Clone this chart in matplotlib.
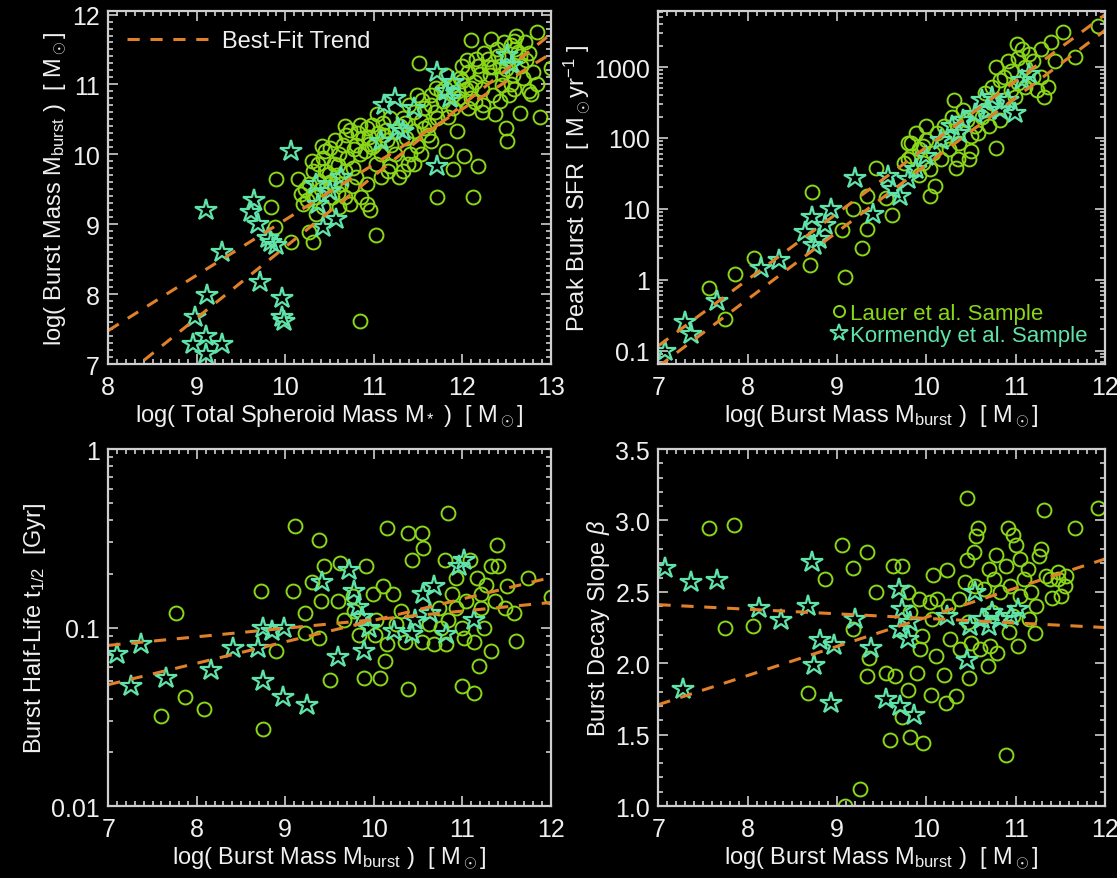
import numpy as np
import matplotlib.pyplot as plt
from matplotlib.lines import Line2D
from matplotlib.ticker import MultipleLocator, LogLocator, FixedLocator, FixedFormatter

plt.rcParams['font.family'] = ['Liberation Sans', 'DejaVu Sans']
plt.rcParams['mathtext.fontset'] = 'custom'
plt.rcParams['mathtext.rm'] = 'Liberation Sans'
plt.rcParams['mathtext.it'] = 'Liberation Sans:italic'

# --- panel 1: burst mass vs total spheroid mass ---
p1_lauer_x = [12.84, 13.0, 12.88, 12.10, 11.51, 11.71, 12.12, 11.02, 10.84, 9.90, 9.84, 9.88, 10.06, 10.31,
              10.27, 12.51, 12.18, 12.02, 11.94, 11.90, 12.65, 12.78, 12.49, 11.82, 11.65, 11.49, 11.65, 11.39,
              11.18, 10.14, 10.18, 10.20, 10.27, 10.31, 10.37, 10.43, 10.45, 10.49, 10.55, 10.61, 10.65, 10.69,
              10.73, 10.80, 10.84, 10.88, 10.92, 10.98, 11.00, 11.02, 10.92, 10.86, 10.92, 10.96, 10.67, 10.73,
              10.61, 10.53, 10.43, 10.35, 10.45, 10.63, 10.80, 11.08, 11.14, 11.18, 11.20, 11.24, 11.33, 11.29,
              11.41, 11.49, 11.37, 11.45, 11.53, 11.57, 11.63, 11.69, 11.78, 11.84, 11.90, 11.96, 11.98, 12.04,
              12.06, 12.10, 12.14, 12.18, 12.22, 12.24, 12.29, 12.31, 12.35, 12.37, 12.39, 12.43, 12.45, 12.47,
              12.51, 12.55, 12.57, 12.59, 12.63, 12.67, 12.69, 12.71, 12.76, 12.80, 12.06, 12.00, 11.90, 11.82,
              11.76, 11.65, 11.61, 11.53, 11.45, 11.16, 11.08, 11.12, 11.24, 10.84, 10.76, 10.67, 10.55, 10.35,
              10.31, 10.51, 11.04, 11.33, 11.45, 12.22, 12.43, 12.53, 12.33, 12.61, 12.16, 11.90, 11.71, 11.57,
              10.40, 10.58, 10.70, 10.90, 11.10, 11.30, 11.55, 11.80, 12.00, 12.20, 12.40, 12.60, 12.25, 12.45,
              12.65, 12.10, 11.95, 10.25, 10.50, 10.95, 10.22, 10.38, 10.60, 10.78, 10.95, 11.15, 11.35, 12.30,
              12.50, 12.72, 10.30, 10.42, 10.56, 10.68, 10.82, 10.98, 11.05, 11.40, 11.70, 12.05, 12.15, 12.35,
              12.55, 12.75, 12.85, 12.58, 10.60, 10.75]
p1_lauer_y = [11.75, 11.23, 10.54, 11.63, 11.30, 9.39, 9.39, 8.84, 7.61, 9.65, 9.24, 8.96, 8.75, 8.75,
              8.89, 10.19, 9.83, 9.98, 10.33, 9.79, 10.59, 10.87, 10.38, 10.05, 10.19, 10.85, 10.85, 9.86,
              9.83, 9.65, 9.43, 9.29, 9.57, 9.76, 9.86, 9.95, 10.05, 9.72, 9.86, 10.00, 10.14, 10.28,
              10.35, 10.14, 10.00, 10.24, 10.38, 10.42, 10.14, 9.86, 9.57, 9.39, 9.29, 9.20, 9.39, 9.29,
              9.24, 9.39, 9.24, 9.15, 9.76, 9.57, 9.67, 10.00, 10.35, 10.52, 10.14, 10.00, 9.76, 9.67,
              10.00, 10.12, 10.24, 10.33, 10.47, 10.66, 10.42, 10.61, 10.76, 10.54, 10.66, 10.80, 11.09, 10.94,
              11.18, 10.80, 11.04, 11.27, 10.94, 10.71, 11.37, 11.13, 10.85, 10.57, 11.51, 11.27, 10.99, 11.61,
              11.37, 11.56, 11.13, 10.94, 11.46, 11.27, 11.09, 11.61, 10.90, 11.18, 10.66, 11.27, 10.99, 11.13,
              10.90, 10.71, 10.28, 10.00, 9.86, 9.76, 9.67, 10.28, 10.33, 10.42, 9.81, 9.76, 9.57, 9.39,
              9.43, 10.09, 10.57, 10.52, 10.61, 10.61, 10.76, 10.85, 11.65, 11.70, 11.37, 10.85, 10.52, 10.38,
              9.50, 9.70, 9.95, 10.05, 10.45, 10.40, 10.78, 10.95, 11.05, 11.15, 11.40, 11.50, 11.45, 11.15,
              11.40, 10.95, 10.90, 9.35, 9.60, 10.25, 9.50, 9.62, 9.85, 10.08, 10.15, 10.20, 10.45, 11.25,
              11.22, 11.35, 9.90, 10.12, 10.20, 10.40, 10.30, 10.10, 10.30, 10.70, 10.95, 11.35, 10.75, 11.25,
              11.00, 11.45, 11.00, 11.62, 9.45, 9.55]
p1_korm_x = [9.10, 10.06, 9.29, 9.12, 8.98, 8.96, 9.10, 9.29, 9.10, 9.61, 9.65, 9.69, 9.71, 9.96, 9.96,
             9.98, 9.84, 9.90, 9.80, 10.37, 10.43, 10.57, 10.63, 10.35, 10.51, 11.12, 11.24, 11.33, 11.45,
             11.71, 11.71, 11.82, 11.27, 11.86, 11.08, 12.51, 12.56, 11.90]
p1_korm_y = [9.20, 10.05, 8.61, 7.99, 7.68, 7.28, 7.40, 7.28, 7.14, 9.17, 9.34, 9.00, 8.18, 7.94, 7.68,
             7.61, 8.75, 8.70, 8.80, 9.29, 8.96, 9.08, 9.67, 9.57, 9.48, 10.71, 10.80, 10.33, 10.66,
             11.18, 9.83, 10.90, 10.38, 10.80, 10.19, 11.42, 11.28, 11.04]
p1_fits = [(0.792, 1.144), (1.015, -1.475)]

# --- panel 2: peak SFR vs burst mass ---
p2_lauer_x = [11.92, 11.53, 11.67, 11.44, 11.40, 11.28, 11.36, 11.32, 11.07, 11.03, 10.91, 10.95, 11.11,
              11.19, 10.83, 10.74, 10.78, 10.50, 10.48, 10.31, 10.35, 10.33, 10.10, 10.00, 9.88, 9.79, 9.96,
              10.08, 9.83, 9.75, 10.20, 10.62, 10.54, 10.41, 10.66, 9.61, 9.55, 9.44, 9.34, 9.34, 9.28, 9.18,
              9.09, 9.05, 8.72, 8.70, 8.07, 7.86, 7.57, 7.75, 10.04, 9.92, 10.04, 10.16, 10.25, 10.37, 10.50,
              10.58, 10.70, 10.83, 10.87, 10.95, 11.03, 11.11, 11.19, 11.24, 10.99, 10.87, 10.74, 10.66,
              10.45, 10.33, 10.20, 10.12, 10.00, 9.92, 9.83, 9.79, 9.96, 11.15, 11.01, 11.28, 10.78, 10.29]
p2_lauer_y = [3800, 3100, 1380, 1230, 2240, 1800, 525, 380, 1800, 1320, 1230, 890, 1000, 1230, 650, 525,
              73, 65, 50, 340, 50, 38, 21, 145, 117, 85, 76, 62, 55, 45, 95, 200, 145, 250, 430, 8.1, 14, 38,
              15, 5.2, 2.8, 10, 1.1, 5.0, 17, 1.6, 2.0, 1.2, 0.76, 0.28, 15, 30, 36, 50, 69, 85, 105, 117, 145,
              180, 340, 470, 590, 525, 720, 470, 380, 720, 310, 250, 180, 160, 145, 117, 95, 69, 85, 50, 45,
              1550, 2140, 720, 1000, 200]
p2_korm_x = [7.07, 7.30, 7.36, 7.65, 8.15, 8.35, 8.64, 8.72, 8.80, 8.93, 8.87, 8.74, 9.20, 9.40, 9.57,
             9.63, 9.71, 9.79, 9.88, 10.00, 10.29, 10.41, 10.54, 10.62, 10.74, 10.83, 10.99, 11.07, 11.15,
             10.37, 10.16, 10.91, 10.70]
p2_korm_y = [0.10, 0.25, 0.17, 0.50, 1.45, 1.9, 4.7, 7.6, 3.8, 10, 5.9, 3.1, 27, 8.5, 29, 19, 15, 26, 36,
             55, 145, 180, 220, 340, 380, 250, 225, 650, 810, 117, 95, 340, 250]
p2_fits = [(0.934, -7.47), (0.948, -7.86)]

# --- panel 3: burst half-life vs burst mass ---
p3_lauer_x = [10.84, 9.11, 9.38, 10.15, 10.39, 10.54, 10.56, 10.43, 11.39, 11.74, 12.00, 11.41, 11.51,
              11.59, 11.61, 11.33, 11.19, 11.00, 11.13, 10.39, 10.13, 10.07, 9.89, 9.50, 8.89, 8.73, 9.09,
              7.77, 7.87, 8.08, 7.59, 8.75, 9.22, 9.22, 9.30, 9.40, 9.38, 9.44, 9.60, 9.62, 9.91, 9.66, 9.78,
              9.99, 10.01, 10.11, 10.22, 10.31, 10.35, 10.15, 10.03, 10.54, 10.68, 10.80, 10.93, 11.09, 11.17,
              11.27, 11.33, 11.37, 11.21, 11.04, 10.93, 10.84, 11.00, 11.13, 11.02, 10.82, 10.76, 11.25, 11.48,
              11.21, 10.89, 10.74, 10.62, 10.25, 9.83, 9.76]
p3_lauer_y = [0.44, 0.37, 0.31, 0.36, 0.34, 0.34, 0.28, 0.24, 0.29, 0.19, 0.148, 0.22, 0.17, 0.12, 0.084,
              0.074, 0.061, 0.047, 0.043, 0.045, 0.065, 0.052, 0.052, 0.051, 0.074, 0.16, 0.16, 0.12, 0.041,
              0.035, 0.032, 0.027, 0.12, 0.093, 0.18, 0.14, 0.087, 0.22, 0.14, 0.23, 0.22, 0.11, 0.123, 0.155,
              0.091, 0.17, 0.155, 0.123, 0.083, 0.081, 0.11, 0.083, 0.081, 0.24, 0.19, 0.24, 0.19, 0.174, 0.22,
              0.141, 0.129, 0.141, 0.129, 0.11, 0.10, 0.083, 0.087, 0.081, 0.10, 0.10, 0.129, 0.155, 0.155,
              0.129, 0.105, 0.105, 0.091, 0.151]
p3_korm_x = [7.10, 7.37, 7.26, 7.65, 8.16, 8.41, 8.69, 8.75, 8.85, 8.99, 8.75, 8.97, 9.24, 9.42, 9.60,
             9.72, 9.78, 9.82, 9.89, 9.95, 10.23, 10.43, 10.56, 10.68, 10.64, 10.82, 10.96, 11.02, 11.13,
             10.47, 9.87]
p3_korm_y = [0.071, 0.081, 0.047, 0.052, 0.058, 0.077, 0.077, 0.10, 0.096, 0.10, 0.050, 0.041, 0.037,
             0.18, 0.068, 0.21, 0.16, 0.13, 0.074, 0.10, 0.096, 0.092, 0.155, 0.17, 0.12, 0.092, 0.22, 0.24,
             0.11, 0.11, 0.115]
p3_fits = [(0.048, -1.436), (0.120, -2.160)]

# --- panel 4: burst decay slope vs burst mass ---
p4_lauer_x = [7.57, 7.85, 7.75, 8.06, 8.87, 9.05, 9.34, 9.18, 9.18, 9.44, 9.63, 9.73, 8.68, 9.34, 9.36,
              9.55, 9.65, 9.59, 9.82, 9.96, 9.73, 9.79, 9.26, 9.09, 10.89, 10.45, 11.32, 11.67, 11.92, 10.91,
              10.58, 10.56, 11.00, 11.28, 10.53, 10.78, 10.08, 10.23, 10.45, 10.70, 10.89, 11.05, 11.14, 11.09,
              11.34, 11.47, 11.51, 11.41, 9.79, 9.92, 10.04, 10.12, 10.24, 10.37, 10.43, 10.55, 10.65, 10.76,
              10.82, 10.94, 11.05, 11.17, 11.23, 11.15, 11.22, 11.03, 10.79, 10.69, 10.71, 10.50, 10.38, 10.26,
              9.93, 9.95, 9.89, 10.11, 10.20, 10.05, 10.22, 10.33, 10.48, 10.60, 10.93, 10.74, 10.97, 10.47,
              10.06, 9.82, 11.38, 11.56, 11.55, 11.47, 10.97, 11.26]
p4_lauer_y = [2.95, 2.97, 2.25, 2.26, 2.59, 2.83, 2.78, 2.67, 2.24, 2.50, 2.68, 2.68, 1.79, 1.91, 2.04,
              1.93, 1.91, 1.46, 1.48, 1.44, 1.62, 1.81, 1.12, 1.00, 1.36, 3.16, 3.07, 2.95, 3.09, 2.95, 2.95,
              2.89, 2.83, 2.80, 2.78, 2.76, 2.62, 2.65, 2.72, 2.66, 2.68, 2.73, 2.66, 2.59, 2.61, 2.59, 2.47,
              2.46, 2.50, 2.45, 2.43, 2.45, 2.40, 2.45, 2.57, 2.54, 2.52, 2.59, 2.50, 2.54, 2.47, 2.50, 2.40,
              2.31, 2.21, 2.12, 2.07, 1.98, 2.12, 2.14, 2.10, 2.17, 2.10, 2.19, 1.93, 2.05, 1.92, 1.78, 1.72,
              1.77, 1.90, 2.10, 2.22, 2.36, 2.33, 2.29, 2.31, 2.36, 2.59, 2.61, 2.54, 2.64, 2.90, 2.75]
p4_korm_x = [7.07, 7.36, 7.65, 7.28, 8.13, 8.37, 8.72, 8.68, 8.81, 8.97, 8.74, 8.93, 9.20, 9.38, 9.55,
             9.71, 9.86, 9.69, 9.73, 9.71, 9.82, 10.23, 10.45, 10.54, 10.62, 10.74, 10.82, 10.95, 11.03,
             10.49, 10.70, 9.80]
p4_korm_y = [2.67, 2.57, 2.58, 1.82, 2.39, 2.30, 2.71, 2.40, 2.16, 2.13, 1.99, 1.72, 2.31, 2.11, 1.75,
             1.70, 1.64, 2.52, 2.38, 2.24, 2.29, 2.33, 2.02, 2.50, 2.31, 2.36, 2.31, 2.33, 2.38, 2.26, 2.26,
             2.17]
p4_fits = [(-0.032, 2.634), (0.204, 0.282)]

lauer_color = '#8ad618'
korm_color = '#5fe3a8'
fit_color = '#e0802a'
fg = '#f0f0f0'
dash = (0, (4, 3.5))
burst_label = r'log( Burst Mass M$_{\rm burst}$ )  [ M$_\odot$]'

fig = plt.figure(figsize=(11.17, 8.79), dpi=100, facecolor='black')
ax1 = fig.add_axes([0.0970, 0.5847, 0.3960, 0.4016])
ax2 = fig.add_axes([0.5895, 0.5847, 0.3997, 0.4016])
ax3 = fig.add_axes([0.0970, 0.0819, 0.3960, 0.4061])
ax4 = fig.add_axes([0.5895, 0.0819, 0.3997, 0.4061])


def style(ax):
    ax.set_facecolor('black')
    for s in ax.spines.values():
        s.set_color('#cfcfcf')
        s.set_linewidth(1.6)
    ax.tick_params(which='both', direction='in', top=True, right=True, colors='#cfcfcf',
                   labelcolor=fg, labelsize=18, width=1.2)
    ax.tick_params(which='major', length=7)
    ax.tick_params(which='minor', length=3.5)
    ax.tick_params(axis='x', which='major', pad=8)
    ax.tick_params(axis='y', which='major', pad=6)


def draw(ax, lx, ly, kx, ky):
    ax.plot(lx, ly, 'o', ms=10, mfc='none', mec=lauer_color, mew=1.4, ls='none')
    ax.plot(kx, ky, '*', ms=16, mfc='none', mec=korm_color, mew=1.6, ls='none')


# panel 1
style(ax1)
draw(ax1, p1_lauer_x, p1_lauer_y, p1_korm_x, p1_korm_y)
xx = np.array([8, 13])
for m, b in p1_fits:
    ax1.plot(xx, m * xx + b, color=fit_color, lw=2.2, ls=dash)
ax1.set_xlim(8, 13)
ax1.set_ylim(7, 12.05)
ax1.xaxis.set_major_locator(MultipleLocator(1))
ax1.xaxis.set_minor_locator(MultipleLocator(0.1))
ax1.yaxis.set_major_locator(MultipleLocator(1))
ax1.yaxis.set_minor_locator(MultipleLocator(0.1))
ax1.set_xlabel(r'log( Total Spheroid Mass M$_*$ )  [ M$_\odot$]', color=fg, fontsize=17, labelpad=2)
ax1.set_ylabel(burst_label, color=fg, fontsize=17, labelpad=2)
ax1.legend([Line2D([], [], color=fit_color, lw=2.2, ls=dash)], ['Best-Fit Trend'],
           loc='upper left', frameon=False, fontsize=17, labelcolor=fg, handlelength=3.4,
           handletextpad=0.6, borderaxespad=0.4)

# panel 2
style(ax2)
ax2.set_yscale('log')
draw(ax2, p2_lauer_x, p2_lauer_y, p2_korm_x, p2_korm_y)
xx = np.array([7, 12])
for m, b in p2_fits:
    ax2.plot(xx, 10 ** (m * xx + b), color=fit_color, lw=2.2, ls=dash)
ax2.set_xlim(7, 12)
ax2.set_ylim(10 ** -1.19, 10 ** 3.79)
ax2.xaxis.set_major_locator(MultipleLocator(1))
ax2.xaxis.set_minor_locator(MultipleLocator(0.1))
ax2.yaxis.set_major_locator(FixedLocator([0.1, 1, 10, 100, 1000]))
ax2.yaxis.set_major_formatter(FixedFormatter(['0.1', '1', '10', '100', '1000']))
ax2.yaxis.set_minor_locator(LogLocator(subs=np.arange(2, 10)))
ax2.set_xlabel(burst_label, color=fg, fontsize=17, labelpad=2)
ax2.set_ylabel(r'Peak Burst SFR  [ M$_\odot$yr$^{-1}$ ]', color=fg, fontsize=17, labelpad=1)
h_l = Line2D([], [], marker='o', ms=8, mfc='none', mec=lauer_color, mew=1.4, ls='none')
h_k = Line2D([], [], marker='*', ms=13, mfc='none', mec=korm_color, mew=1.4, ls='none')
ax2.legend([h_l, h_k], ['Lauer et al. Sample', 'Kormendy et al. Sample'], loc='lower right',
           frameon=False, fontsize=16, labelcolor=[lauer_color, korm_color], handlelength=0.6,
           handletextpad=0.2, labelspacing=0.05, borderaxespad=0.4)

# panel 3
style(ax3)
ax3.set_yscale('log')
draw(ax3, p3_lauer_x, p3_lauer_y, p3_korm_x, p3_korm_y)
for m, b in p3_fits:
    ax3.plot(xx, 10 ** (m * xx + b), color=fit_color, lw=2.2, ls=dash)
ax3.set_xlim(7, 12)
ax3.set_ylim(0.01, 1)
ax3.xaxis.set_major_locator(MultipleLocator(1))
ax3.xaxis.set_minor_locator(MultipleLocator(0.1))
ax3.yaxis.set_major_locator(FixedLocator([0.01, 0.1, 1]))
ax3.yaxis.set_major_formatter(FixedFormatter(['0.01', '0.1', '1']))
ax3.yaxis.set_minor_locator(LogLocator(subs=np.arange(2, 10)))
ax3.set_xlabel(burst_label, color=fg, fontsize=17, labelpad=2)
ax3.set_ylabel(r'Burst Half-Life t$_{1/2}$  [Gyr]', color=fg, fontsize=17, labelpad=2)

# panel 4
style(ax4)
draw(ax4, p4_lauer_x, p4_lauer_y, p4_korm_x, p4_korm_y)
for m, b in p4_fits:
    ax4.plot(xx, m * xx + b, color=fit_color, lw=2.2, ls=dash)
ax4.set_xlim(7, 12)
ax4.set_ylim(1.0, 3.5)
ax4.xaxis.set_major_locator(MultipleLocator(1))
ax4.xaxis.set_minor_locator(MultipleLocator(0.1))
ax4.yaxis.set_major_locator(MultipleLocator(0.5))
ax4.yaxis.set_minor_locator(MultipleLocator(0.1))
ax4.yaxis.set_major_formatter('{x:.1f}')
ax4.set_xlabel(burst_label, color=fg, fontsize=17, labelpad=2)
ax4.set_ylabel(r'Burst Decay Slope $\beta$', color=fg, fontsize=17, labelpad=2)

fig.savefig('out.png', dpi=100, facecolor='black')
